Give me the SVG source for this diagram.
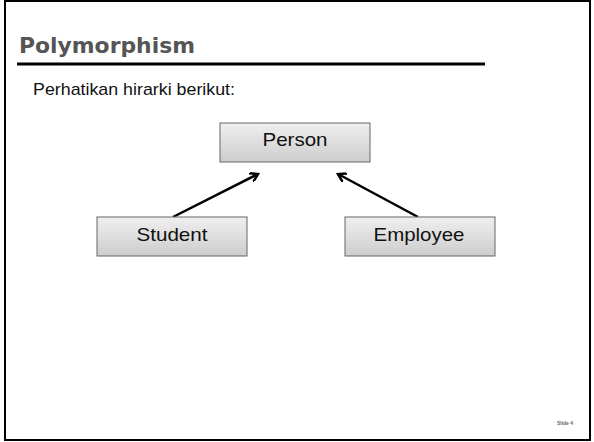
<svg xmlns="http://www.w3.org/2000/svg" width="594" height="442" viewBox="0 0 594 442">
<style>
.box{fill:url(#g);stroke:#666;stroke-width:1}
.lbl{font-family:"Liberation Sans",Arial,sans-serif;font-size:19px;fill:#111;text-anchor:middle}
.conn{stroke:#000;stroke-width:2.5;fill:none;marker-end:url(#arr)}
</style>
<defs>
<linearGradient id="g" x1="0" y1="0" x2="0" y2="1">
<stop offset="0" stop-color="#efefef"/>
<stop offset="1" stop-color="#cdcdcd"/>
</linearGradient>
<marker id="arr" markerWidth="10" markerHeight="10" refX="8" refY="5" orient="auto" markerUnits="userSpaceOnUse" viewBox="0 0 10 10">
<polyline points="0,0 8,5 0,10" fill="none" stroke="#000" stroke-width="2.5"/>
</marker>
</defs>
<rect x="0" y="0" width="594" height="442" fill="#fff"/>
<rect x="5" y="1" width="585" height="439" fill="none" stroke="#000" stroke-width="2"/>
<text x="19" y="53" font-family="'DejaVu Sans','Open Sans',sans-serif" font-weight="bold" font-size="22" fill="#555" textLength="176" lengthAdjust="spacingAndGlyphs">Polymorphism</text>
<line x1="17" y1="64" x2="485" y2="64" stroke="#000" stroke-width="3"/>
<text x="33" y="95" font-family="'Liberation Sans',Arial,sans-serif" font-size="17" fill="#111" textLength="202" lengthAdjust="spacingAndGlyphs">Perhatikan hirarki berikut:</text>
<g id="connectors">
<line class="conn" x1="173" y1="217" x2="258" y2="174"/>
<line class="conn" x1="418" y1="217" x2="338" y2="174"/>
</g>
<g id="person">
<rect class="box" x="220" y="123" width="150" height="39"/>
<text class="lbl" x="295" y="146" textLength="65" lengthAdjust="spacingAndGlyphs">Person</text>
</g>
<g id="student">
<rect class="box" x="97" y="217" width="150" height="39"/>
<text class="lbl" x="172" y="241" textLength="71" lengthAdjust="spacingAndGlyphs">Student</text>
</g>
<g id="employee">
<rect class="box" x="345" y="217" width="150" height="39"/>
<text class="lbl" x="419" y="241" textLength="91" lengthAdjust="spacingAndGlyphs">Employee</text>
</g>
<text x="565" y="425" font-family="'Liberation Sans',Arial,sans-serif" font-size="5" font-weight="bold" fill="#666" text-anchor="middle">Slide 4</text>
</svg>
